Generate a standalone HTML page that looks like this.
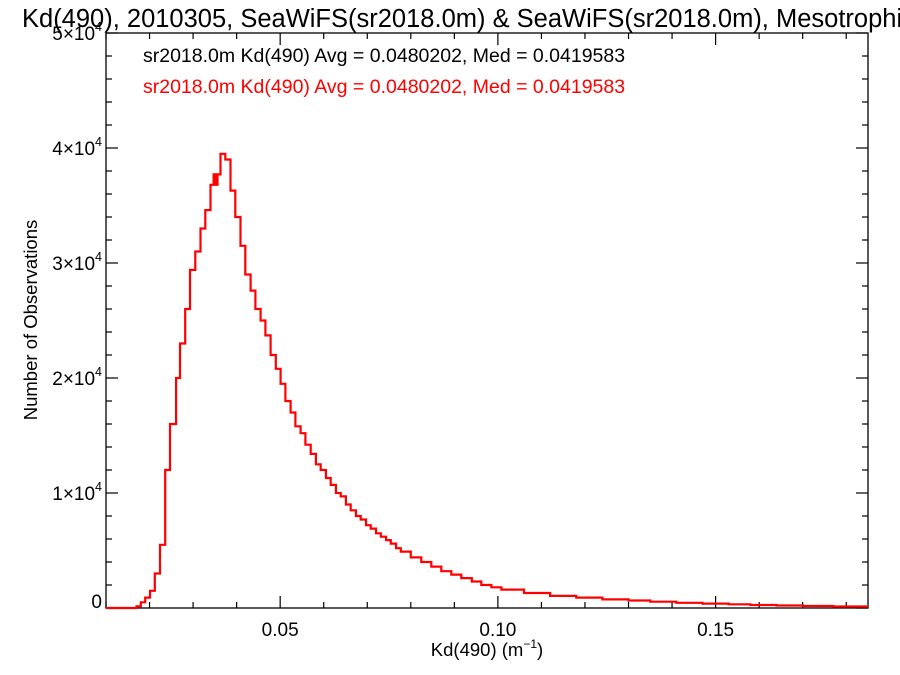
<!DOCTYPE html>
<html><head><meta charset="utf-8"><style>
body{margin:0;background:#fff;}
svg{display:block;font-family:"Liberation Sans",sans-serif;}
</style></head><body>
<svg id="chart" width="900" height="675" viewBox="0 0 900 675">
<text x="22" y="27" font-size="25.5">Kd(490), 2010305, SeaWiFS(sr2018.0m) &amp; SeaWiFS(sr2018.0m), Mesotrophic</text>
<text x="143" y="62" font-size="19.5" fill="#000">sr2018.0m Kd(490) Avg = 0.0480202, Med = 0.0419583</text>
<text x="143" y="93" font-size="19.5" fill="#f00">sr2018.0m Kd(490) Avg = 0.0480202, Med = 0.0419583</text>
<text x="487" y="656" font-size="18.5" text-anchor="middle">Kd(490) (m<tspan font-size="12" dy="-8">−1</tspan><tspan dy="8">)</tspan></text>
<text transform="translate(37,320) rotate(-90)" font-size="18.5" text-anchor="middle">Number of Observations</text>
<g id="axes"></g>
<g id="series"></g>
</svg>
<script>
const xTicks=[0.05,0.10,0.15];
const xTickLabels=["0.05","0.10","0.15"];
const yTicks=[0,10000,20000,30000,40000,50000];
const yTickLabels=["0","1","2","3","4","5"];
const binEdges=[0.010,0.0170,0.0180,0.0190,0.0201,0.0212,0.0224,0.0236,0.0247,0.0261,0.0270,0.0282,0.0293,0.0305,0.0317,0.0328,0.0340,0.0347,0.0351,0.0356,0.0363,0.0374,0.0386,0.0397,0.0409,0.0420,0.0432,0.0443,0.0455,0.0466,0.0478,0.0490,0.0501,0.0512,0.0524,0.0535,0.0547,0.0558,0.0570,0.0582,0.0593,0.0605,0.0616,0.0628,0.0639,0.0651,0.0662,0.0674,0.0685,0.0697,0.0708,0.0720,0.0731,0.0743,0.0754,0.0766,0.0777,0.0800,0.0824,0.0847,0.0870,0.0893,0.0916,0.0940,0.0962,0.0985,0.1008,0.106,0.112,0.118,0.124,0.130,0.135,0.141,0.147,0.153,0.158,0.164,0.170,0.177,0.185];
const counts=[0,150,500,900,1500,3000,5500,12000,16000,20000,23000,26000,29400,31000,33000,34600,36800,37700,36800,37700,39500,39000,36300,34000,31500,29000,27600,26000,25000,23700,22000,20800,19500,18000,17000,15800,15200,14200,13400,12500,12000,11300,10700,10000,9700,9000,8500,8000,7700,7200,6900,6500,6200,5900,5600,5200,4900,4400,4000,3600,3200,2900,2600,2300,2000,1800,1600,1300,1050,900,750,650,550,450,380,320,260,220,170,130];
const L=106,R=868,T=33,B=608,xMin=0.01,xMax=0.185,yMax=50000;
const xs=v=>L+(v-xMin)/(xMax-xMin)*(R-L);
const ys=v=>B-v/yMax*(B-T);
const NS="http://www.w3.org/2000/svg";
const axes=document.getElementById('axes');
function mk(tag,attrs,parent){const e=document.createElementNS(NS,tag);for(const k in attrs)e.setAttribute(k,attrs[k]);parent.appendChild(e);return e;}
const frame=mk('rect',{x:L,y:T,width:R-L,height:B-T,fill:'none',stroke:'#000','stroke-width':1.3},axes);


for(let k=1;k<=18;k++){const v=k*0.01;const x=xs(v);const major=k%5===0;const len=major?12:6;
const t1=mk('line',{x1:x,x2:x,y1:B,y2:B-len,stroke:'#000','stroke-width':1.2},axes);


const t2=mk('line',{x1:x,x2:x,y1:T,y2:T+len,stroke:'#000','stroke-width':1.2},axes);

}
xTicks.forEach((v,i)=>{const t=mk('text',{x:xs(v),y:B+28,'font-size':19,'text-anchor':'middle'},axes);t.textContent=xTickLabels[i];

});
for(let v=0;v<=yMax;v+=2000){const y=ys(v);const major=v%10000===0;const len=major?12:6;
const a=mk('line',{x1:L,x2:L+len,y1:y,y2:y,stroke:'#000','stroke-width':1.2},axes);


const b=mk('line',{x1:R,x2:R-len,y1:y,y2:y,stroke:'#000','stroke-width':1.2},axes);

}
yTicks.forEach((v,i)=>{const y=ys(v);const t=mk('text',{x:L-4,y:v===0?y:y+7,'font-size':19,'text-anchor':'end'},axes);
if(v===0){t.textContent='0';}else{t.innerHTML=yTickLabels[i]+'×10<tspan font-size="12.5" dy="-9">4</tspan>';}

});
let d='';
for(let i=0;i<counts.length;i++){const x0=xs(binEdges[i]),x1=xs(binEdges[i+1]),y=ys(counts[i]);d+=(i===0?'M':'L')+x0.toFixed(1)+','+y.toFixed(1)+'L'+x1.toFixed(1)+','+y.toFixed(1);}
const p=mk('path',{d:d,fill:'none',stroke:'#f00','stroke-width':2.2},document.getElementById('series'));


</script>
</body></html>
